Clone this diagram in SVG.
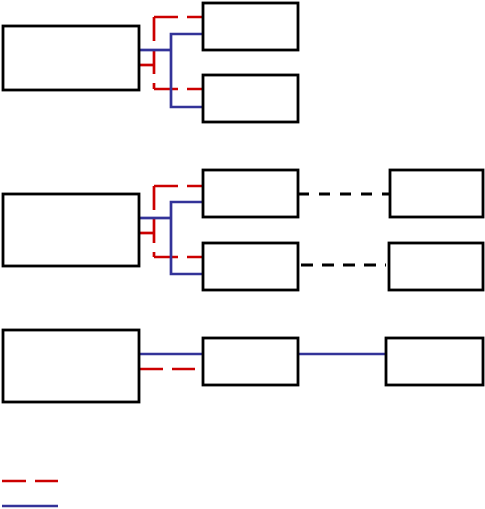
<svg xmlns="http://www.w3.org/2000/svg" width="485" height="509" viewBox="0 0 485 509">
<style>
.box{fill:#fff;stroke:#000;stroke-width:2.8}
.red{fill:none;stroke:#cc0000;stroke-width:2.7;stroke-dasharray:24 9}
.redsolid{fill:none;stroke:#cc0000;stroke-width:2.7}
.blue{fill:none;stroke:#333399;stroke-width:2.7}
.blk{fill:none;stroke:#000;stroke-width:2.8;stroke-dasharray:11 10}
</style>
<rect width="485" height="509" fill="#fff"/>
<g id="connectors">
  <line class="redsolid" x1="139" y1="65" x2="154" y2="65"/>
  <line class="red" x1="154" y1="17" x2="154" y2="89"/>
  <line class="red" x1="154" y1="17" x2="203" y2="17"/>
  <line class="red" x1="154" y1="89" x2="203" y2="89"/>
  <line class="blue" x1="139" y1="50" x2="171" y2="50"/>
  <polyline class="blue" points="203,34 171,34 171,107 203,107"/>
  <line class="redsolid" x1="139" y1="233" x2="154" y2="233"/>
  <line class="red" x1="154" y1="186" x2="154" y2="257"/>
  <line class="red" x1="154" y1="186" x2="203" y2="186"/>
  <line class="red" x1="154" y1="257" x2="203" y2="257"/>
  <line class="blue" x1="139" y1="218" x2="171" y2="218"/>
  <polyline class="blue" points="203,202 171,202 171,274 203,274"/>
  <line class="blk" x1="298" y1="194" x2="390" y2="194"/>
  <line class="blk" style="stroke-dasharray:12 9" x1="301" y1="265" x2="386" y2="265"/>
  <line class="blue" x1="139" y1="354" x2="203" y2="354"/>
  <line class="red" x1="139" y1="369" x2="195" y2="369"/>
  <line class="blue" x1="298" y1="354" x2="386" y2="354"/>
  <line class="red" x1="2" y1="481" x2="58" y2="481"/>
  <line class="blue" x1="2" y1="506" x2="58" y2="506"/>
</g>
<g id="n1"><rect class="box" x="3" y="26" width="136" height="64"/></g>
<g id="n1a"><rect class="box" x="203" y="3" width="95" height="47"/></g>
<g id="n1b"><rect class="box" x="203" y="75" width="95" height="47"/></g>
<g id="n2"><rect class="box" x="3" y="194" width="136" height="72"/></g>
<g id="n2a"><rect class="box" x="203" y="170" width="95" height="47"/></g>
<g id="n2b"><rect class="box" x="203" y="243" width="95" height="47"/></g>
<g id="n2c"><rect class="box" x="390" y="170" width="93" height="47"/></g>
<g id="n2d"><rect class="box" x="389" y="243" width="94" height="47"/></g>
<g id="n3"><rect class="box" x="3" y="330" width="136" height="72"/></g>
<g id="n3a"><rect class="box" x="203" y="338" width="95" height="47"/></g>
<g id="n3b"><rect class="box" x="386" y="338" width="97" height="47"/></g>
</svg>
